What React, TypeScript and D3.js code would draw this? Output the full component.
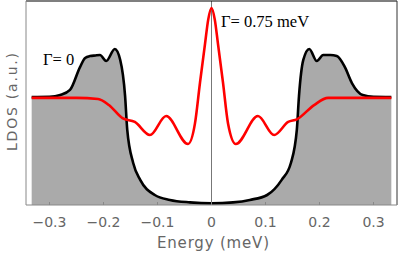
import React from "react";
import * as d3 from "d3";

// LDOS curves (energy in meV, LDOS in arbitrary units)
const blackE = [-0.333, -0.3, -0.28, -0.262, -0.2435, -0.234, -0.225, -0.215, -0.2065, -0.195, -0.179, -0.169, -0.16, -0.156, -0.145, -0.132, -0.105, -0.077, -0.04, 0, 0.04, 0.071, 0.103, 0.13, 0.147, 0.158, 0.162, 0.17, 0.181, 0.195, 0.207, 0.22, 0.232, 0.247, 0.26, 0.28, 0.3, 0.333];
const blackV = [0.529, 0.53, 0.539, 0.564, 0.676, 0.721, 0.73, 0.733, 0.735, 0.706, 0.765, 0.711, 0.534, 0.368, 0.206, 0.123, 0.049, 0.025, 0.013, 0.008, 0.013, 0.025, 0.049, 0.123, 0.206, 0.368, 0.534, 0.711, 0.765, 0.706, 0.735, 0.735, 0.73, 0.676, 0.598, 0.539, 0.53, 0.529];

const redE = [-0.333, -0.25, -0.21, -0.19, -0.165, -0.142, -0.114, -0.084, -0.0435, -0.0306, -0.0213, -0.012, -0.006, 0, 0.006, 0.012, 0.0213, 0.0306, 0.045, 0.086, 0.116, 0.142, 0.158, 0.19, 0.216, 0.25, 0.333];
const redV = [0.525, 0.525, 0.52, 0.49, 0.426, 0.407, 0.343, 0.436, 0.299, 0.4, 0.6, 0.79, 0.91, 0.966, 0.91, 0.79, 0.6, 0.4, 0.299, 0.436, 0.343, 0.407, 0.42, 0.49, 0.525, 0.525, 0.525];

const xTicks = [-0.3, -0.2, -0.1, 0, 0.1, 0.2, 0.3];

const W = 399, H = 255;
const left = 26, right = 397, top = 1, bottom = 205;

export default function App() {
  const x = d3.scaleLinear().domain([-0.3435, 0.3435]).range([left, right]);
  const y = d3.scaleLinear().domain([0, 1]).range([bottom, top]);

  const black = blackE.map((e, i) => [e, blackV[i]] as [number, number]);
  const red = redE.map((e, i) => [e, redV[i]] as [number, number]);

  const line = d3.line<[number, number]>()
    .x(d => x(d[0]))
    .y(d => y(d[1]))
    .curve(d3.curveMonotoneX);
  const area = d3.area<[number, number]>()
    .x(d => x(d[0]))
    .y0(y(0))
    .y1(d => y(d[1]))
    .curve(d3.curveMonotoneX);

  const fmt = (t: number) => (t < 0 ? "\u2212" : "") + (t === 0 ? "0" : Math.abs(t).toFixed(1));

  return (
    <svg width={W} height={H} style={{ position: "absolute", left: 0, top: 0 }}>
      <rect x={0} y={0} width={W} height={H} fill="white" />
      <path d={area(black) || ""} fill="#aaaaaa" />
      <line x1={x(0)} x2={x(0)} y1={top} y2={bottom} stroke="#777" strokeWidth={1} />
      <path d={line(black) || ""} fill="none" stroke="black" strokeWidth={2.6} />
      <path d={line(red) || ""} fill="none" stroke="#ff0000" strokeWidth={2.6} />

      {/* frame */}
      <line x1={left} x2={right} y1={top} y2={top} stroke="black" strokeWidth={1.2} />
      <line x1={right} x2={right} y1={top} y2={bottom} stroke="#333" strokeWidth={1} />
      <line x1={left} x2={left} y1={top} y2={bottom} stroke="#888" strokeWidth={1} />
      <line x1={left} x2={right} y1={bottom} y2={bottom} stroke="#888" strokeWidth={1} />

      {xTicks.map(t => (
        <g key={t}>
          <line x1={x(t)} x2={x(t)} y1={bottom} y2={bottom - 3} stroke="#888" strokeWidth={1} />
          <text x={x(t)} y={227} textAnchor="middle" fontFamily="DejaVu Sans" fontSize={14} fill="#666">{fmt(t)}</text>
        </g>
      ))}

      <text x={213} y={248} textAnchor="middle" fontFamily="DejaVu Sans" fontSize={15} fill="#666" textLength={112}>Energy (meV)</text>
      <text transform={`translate(17,102) rotate(-90)`} textAnchor="middle" fontFamily="DejaVu Sans" fontSize={14} fill="#666" textLength={98}>LDOS (a.u.)</text>

      <text x={43} y={65} fontFamily="Liberation Serif" fontSize={16.5} fill="black">Γ= 0</text>
      <text x={221} y={27} fontFamily="Liberation Serif" fontSize={16.5} fill="black">Γ= 0.75 meV</text>
    </svg>
  );
}
